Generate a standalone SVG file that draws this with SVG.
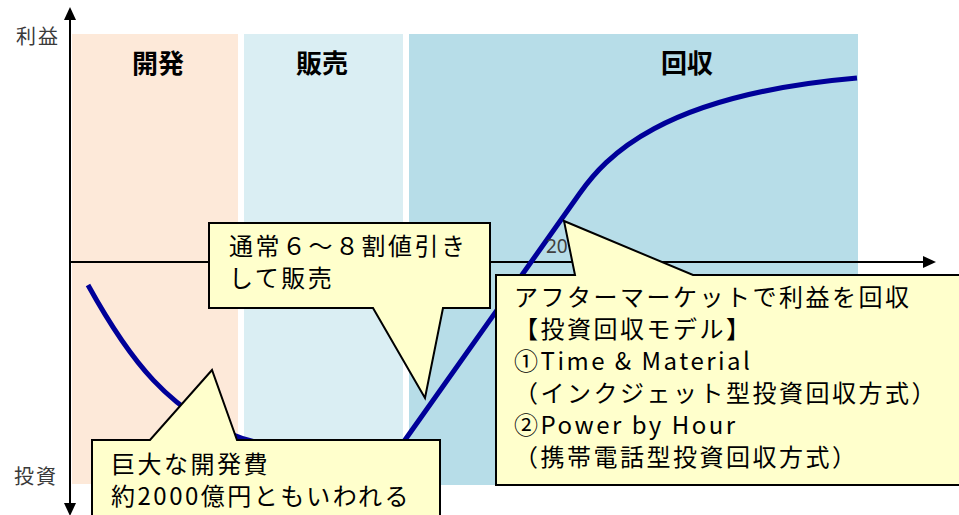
<svg xmlns="http://www.w3.org/2000/svg" width="959" height="515" viewBox="0 0 959 515">
<defs>
<style>
.hdr{font-family:"Noto Sans CJK JP","Noto Sans CJK SC",sans-serif;font-size:26px;font-weight:bold;fill:#000;text-anchor:middle}
.ax{font-family:"Noto Sans CJK JP","Noto Sans CJK SC",sans-serif;font-size:20px;fill:#3a3a3a;letter-spacing:2px}
.co{fill:#FFFFCC;stroke:#000;stroke-width:2;stroke-linejoin:miter}
.ct{font-family:"Noto Sans CJK JP","Noto Sans CJK SC",sans-serif;font-size:24px;fill:#000;letter-spacing:2.5px}
.axis{stroke:#000;stroke-width:2;fill:none}
</style>
<marker id="arr" markerUnits="userSpaceOnUse" viewBox="0 0 13 12" markerWidth="13" markerHeight="12" refX="11" refY="6" orient="auto-start-reverse">
<path d="M0,0 L13,6 L0,12 Z" fill="#000"/>
</marker>
</defs>
<rect width="959" height="515" fill="#fff"/>
<g id="phase-dev">
<rect x="72" y="34" width="166" height="450" fill="#FDE9D9"/>
<text class="hdr" x="158" y="73">開発</text>
</g>
<g id="phase-sales">
<rect x="244" y="34" width="159" height="450" fill="#DAEEF3"/>
<text class="hdr" x="322" y="73">販売</text>
</g>
<g id="phase-recovery">
<rect x="409" y="34" width="449" height="451" fill="#B7DDE8"/>
<text class="hdr" x="687" y="73">回収</text>
</g>
<g id="connectors">
<line class="axis" x1="70" y1="514" x2="70" y2="9" marker-start="url(#arr)" marker-end="url(#arr)"/>
<line class="axis" x1="70" y1="262" x2="934" y2="262" marker-end="url(#arr)"/>
<path id="curve" d="M88,285 C125,352 170,420 255,442 C300,454 380,475 400,447 C460,362 520,277 580,193 C605,158 660,95 857,78" fill="none" stroke="#000099" stroke-width="5"/>
</g>
<g id="axis-labels">
<text class="ax" x="16" y="44">利益</text>
<text class="ax" x="14" y="484">投資</text>
<text x="546" y="253" font-family="Noto Sans, sans-serif" font-size="19" fill="#404040">20</text>
</g>
<g id="callout-discount">
<path class="co" d="M209,223 H490 V308 H443 L425,398 L373,308 H209 Z"/>
<text class="ct" x="229" y="255">通常６～８割値引き</text>
<text class="ct" x="229" y="287">して販売</text>
</g>
<g id="callout-devcost">
<path class="co" d="M92,440 H150 L212,370 L237,440 H440 V522 H92 Z"/>
<text class="ct" x="111" y="473">巨大な開発費</text>
<text class="ct" x="111" y="505">約2000億円ともいわれる</text>
</g>
<g id="callout-aftermarket">
<path class="co" d="M496,275 H575 L564,221 L693,275 H968 V485 H496 Z"/>
<text class="ct" x="514" y="306">アフターマーケットで利益を回収</text>
<text class="ct" x="514" y="338">【投資回収モデル】</text>
<text class="ct" x="514" y="370">①Time &amp; Material</text>
<text class="ct" x="514" y="402">（インクジェット型投資回収方式）</text>
<text class="ct" x="514" y="434">②Power by Hour</text>
<text class="ct" x="514" y="466">（携帯電話型投資回収方式）</text>
</g>
</svg>
